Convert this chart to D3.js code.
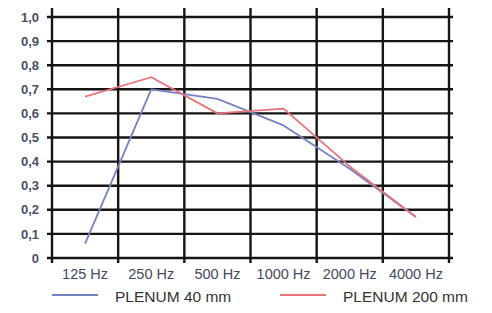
<!DOCTYPE html>
<html>
<head>
<meta charset="utf-8">
<script src="https://cdn.jsdelivr.net/npm/d3@7"></script>
<style>
html,body{margin:0;padding:0;background:#fff;}
svg{display:block;font-family:"Liberation Sans",Arial,sans-serif;}
</style>
</head>
<body>
<svg id="chart" width="492" height="313"></svg>
<script>
const categories = ["125 Hz","250 Hz","500 Hz","1000 Hz","2000 Hz","4000 Hz"];
const plenum40 = [0.06, 0.70, 0.66, 0.55, 0.37, 0.17];
const plenum200 = [0.67, 0.75, 0.60, 0.62, 0.38, 0.17];
const yTicks = [0,0.1,0.2,0.3,0.4,0.5,0.6,0.7,0.8,0.9,1.0];
const yTickLabels = ["0","0,1","0,2","0,3","0,4","0,5","0,6","0,7","0,8","0,9","1,0"];
const seriesNames = ["PLENUM 40 mm","PLENUM 200 mm"];
const seriesColors = ["#7383c4","#e8737a"];

const svg = d3.select("#chart");
const x = d3.scaleBand().domain(categories).range([52, 449]).padding(0);
const y = d3.scaleLinear().domain([0, 1]).range([258, 17]);
const bw = x.bandwidth();

const grid = svg.append("g");
grid.selectAll("line.h").data(yTicks).enter().append("line")
  .attr("x1", 47).attr("x2", 453)
  .attr("y1", d => y(d)).attr("y2", d => y(d))
  .attr("stroke", "#151515").attr("stroke-width", 2.4);
const bounds = categories.map(c => x(c)).concat([x(categories[categories.length-1]) + bw]);
grid.selectAll("line.v").data(bounds).enter().append("line")
  .attr("x1", d => d).attr("x2", d => d)
  .attr("y1", 8).attr("y2", 263)
  .attr("stroke", "#151515").attr("stroke-width", 2.4);

svg.append("g").selectAll("text").data(yTicks).enter().append("text")
  .attr("x", 39).attr("y", d => y(d)).attr("dy", "0.36em")
  .attr("text-anchor", "end").attr("font-size", 13).attr("font-weight", 600)
  .attr("fill", "#4a4f68")
  .text((d,i) => yTickLabels[i]);

svg.append("g").selectAll("text").data(categories).enter().append("text")
  .attr("x", d => x(d) + bw/2).attr("y", 279)
  .attr("text-anchor", "middle").attr("font-size", 14.5)
  .attr("fill", "#454a60")
  .text(d => d);

const line = d3.line().x(d => x(d.c) + bw/2).y(d => y(d.v));
[plenum40, plenum200].forEach((vals, i) => {
  svg.append("path")
    .datum(vals.map((v, k) => ({c: categories[k], v})))
    .attr("d", line)
    .attr("fill", "none")
    .attr("stroke", seriesColors[i])
    .attr("stroke-width", 1.8)
    .attr("stroke-linejoin", "round");
});

const legendX = [52, 280];
seriesNames.forEach((name, i) => {
  const g = svg.append("g");
  g.append("line").attr("x1", legendX[i]).attr("x2", legendX[i] + 46)
    .attr("y1", 295).attr("y2", 295)
    .attr("stroke", seriesColors[i]).attr("stroke-width", 1.8);
  g.append("text").attr("x", legendX[i] + 63).attr("y", 302)
    .attr("font-size", 15.5).attr("fill", "#333")
    .text(name);
});
</script>
</body>
</html>
